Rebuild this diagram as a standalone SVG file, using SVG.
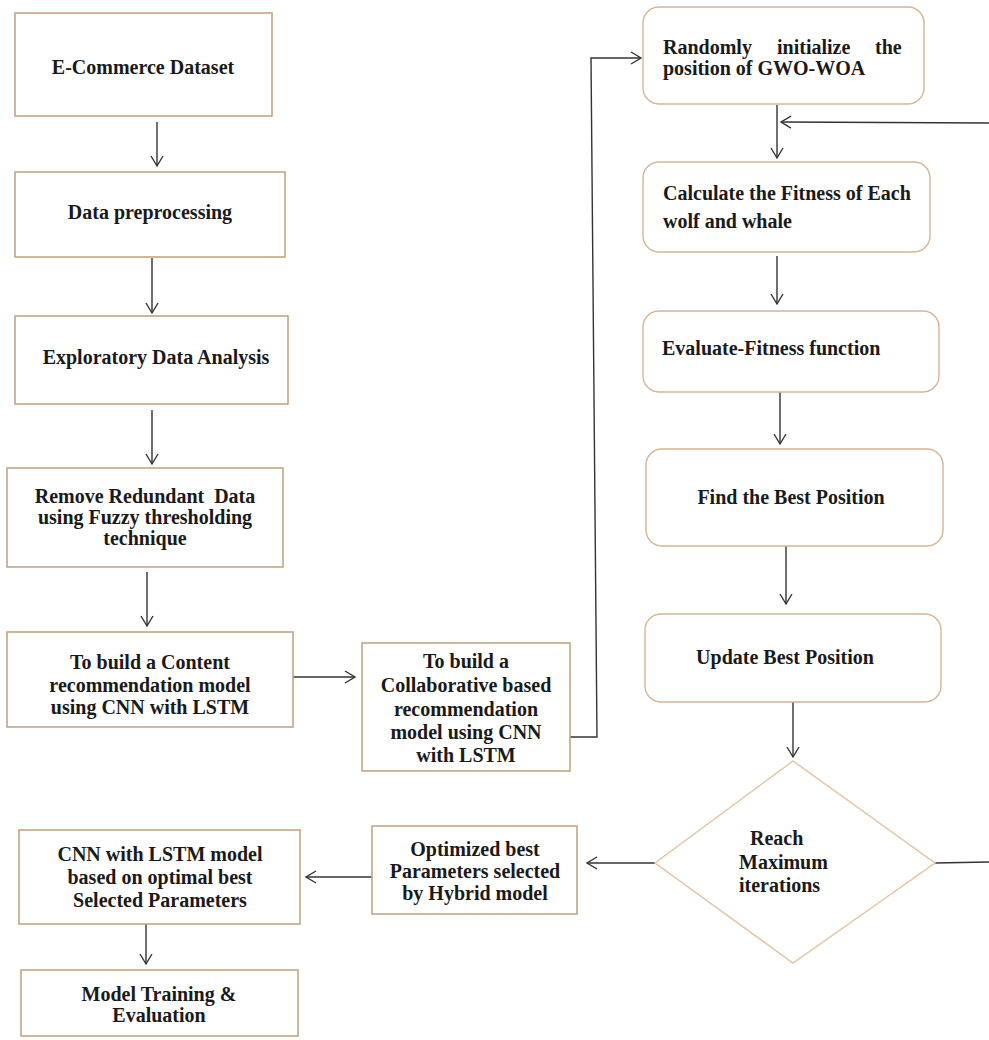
<svg xmlns="http://www.w3.org/2000/svg" width="989" height="1040" viewBox="0 0 989 1040">
<defs>
<marker id="ah" markerUnits="userSpaceOnUse" markerWidth="14" markerHeight="14" refX="11" refY="7" orient="auto">
<path d="M1,1 L11,7 L1,13" fill="none" stroke="#333" stroke-width="1.4"/>
</marker>
<style>
.box{fill:#fff;stroke:#c4a584;stroke-width:1.6}
.rbox{fill:#fff;stroke:#d6b494;stroke-width:1.4}
.dia{fill:#fff;stroke:#e2c6a6;stroke-width:1.5}
.t{font-family:"Liberation Serif","Times New Roman",serif;font-weight:bold;font-size:20px;fill:#1a1a1a}
.c{text-anchor:middle}
.ln{fill:none;stroke:#333;stroke-width:1.4}
.ar{fill:none;stroke:#333;stroke-width:1.4;marker-end:url(#ah)}
</style>
</defs>
<rect width="989" height="1040" fill="#fff"/>
<g id="connectors">
<line class="ar" x1="157" y1="122" x2="157" y2="166"/>
<line class="ar" x1="152" y1="258" x2="152" y2="313"/>
<line class="ar" x1="152" y1="410" x2="152" y2="464"/>
<line class="ar" x1="147" y1="572" x2="147" y2="626"/>
<line class="ar" x1="293" y1="677" x2="355" y2="677"/>
<polyline class="ar" points="570,737 597,737 591,58 641,58"/>
<line class="ar" x1="777" y1="105" x2="777" y2="158"/>
<line class="ar" x1="989" y1="123" x2="781" y2="122"/>
<line class="ar" x1="777" y1="256" x2="777" y2="304"/>
<line class="ar" x1="780" y1="392" x2="780" y2="444"/>
<line class="ar" x1="786" y1="546" x2="786" y2="604"/>
<line class="ar" x1="793" y1="702" x2="793" y2="757"/>
<line class="ar" x1="655" y1="863" x2="587" y2="863"/>
<line class="ln" x1="935" y1="863" x2="989" y2="862"/>
<line class="ar" x1="372" y1="877" x2="306" y2="877"/>
<line class="ar" x1="146" y1="918" x2="146" y2="964"/>
</g>
<g id="n1"><rect class="box" x="15" y="13" width="257" height="103"/><text class="t c" x="143" y="74">E-Commerce Dataset</text></g>
<g id="n2"><rect class="box" x="15" y="172" width="270" height="85"/><text class="t c" x="150" y="219">Data preprocessing</text></g>
<g id="n3"><rect class="box" x="15" y="316" width="273" height="88"/><text class="t c" x="156" y="364">Exploratory Data Analysis</text></g>
<g id="n4"><rect class="box" x="7" y="468" width="276" height="99"/><text class="t c" x="145" y="503" xml:space="preserve">Remove Redundant  Data</text><text class="t c" x="145" y="524">using Fuzzy thresholding</text><text class="t c" x="145" y="545">technique</text></g>
<g id="n5"><rect class="box" x="7" y="632" width="286" height="95"/><text class="t c" x="150" y="669">To build a Content</text><text class="t c" x="150" y="692">recommendation model</text><text class="t c" x="150" y="714">using CNN with LSTM</text></g>
<g id="n6"><rect class="box" x="362" y="643" width="208" height="128"/><text class="t c" x="466" y="668">To build a</text><text class="t c" x="466" y="692">Collaborative based</text><text class="t c" x="466" y="716">recommendation</text><text class="t c" x="466" y="739">model using CNN</text><text class="t c" x="466" y="762">with LSTM</text></g>
<g id="n7"><rect class="rbox" x="643" y="7" width="281" height="97" rx="16"/><text class="t" y="54"><tspan x="663">Randomly</tspan><tspan x="777">initialize</tspan><tspan x="875">the</tspan></text><text class="t" x="663" y="75">position of GWO-WOA</text></g>
<g id="n8"><rect class="rbox" x="643" y="162" width="287" height="90" rx="16"/><text class="t" x="663" y="200">Calculate the Fitness of Each</text><text class="t" x="663" y="228">wolf and whale</text></g>
<g id="n9"><rect class="rbox" x="643" y="311" width="296" height="81" rx="16"/><text class="t" x="662" y="355">Evaluate-Fitness function</text></g>
<g id="n10"><rect class="rbox" x="646" y="449" width="297" height="97" rx="16"/><text class="t c" x="791" y="504">Find the Best Position</text></g>
<g id="n11"><rect class="rbox" x="645" y="614" width="296" height="88" rx="16"/><text class="t c" x="785" y="664">Update Best Position</text></g>
<g id="n12"><polygon class="dia" points="793,761 935,863 793,963 655,863"/><text class="t" x="750" y="845">Reach</text><text class="t" x="739" y="869">Maximum</text><text class="t" x="739" y="892">iterations</text></g>
<g id="n13"><rect class="box" x="372" y="826" width="205" height="88"/><text class="t c" x="475" y="856">Optimized best</text><text class="t c" x="475" y="878">Parameters selected</text><text class="t c" x="475" y="900">by Hybrid model</text></g>
<g id="n14"><rect class="box" x="19" y="830" width="281" height="94"/><text class="t c" x="160" y="861">CNN with LSTM model</text><text class="t c" x="160" y="884">based on optimal best</text><text class="t c" x="160" y="907">Selected Parameters</text></g>
<g id="n15"><rect class="box" x="21" y="970" width="277" height="66"/><text class="t c" x="159" y="1001">Model Training &amp;</text><text class="t c" x="159" y="1022">Evaluation</text></g>
</svg>
